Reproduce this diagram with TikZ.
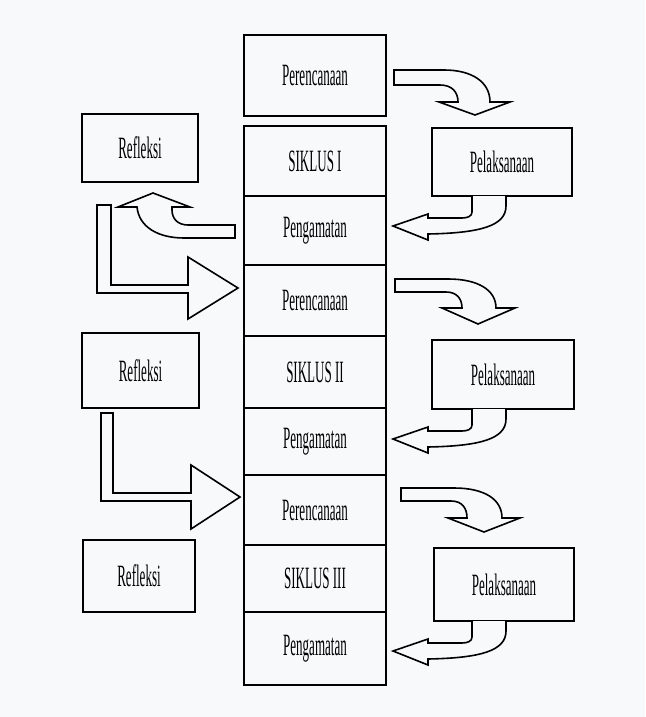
\documentclass[tikz,border=0pt]{standalone}
\usepackage{fontspec}
\setmainfont{Liberation Serif}
\usepackage{graphicx}
\definecolor{paper}{RGB}{247,249,251}
\tikzset{
  box/.style={draw=black, line width=1.6pt, inner sep=0pt, font=\fontsize{31}{33}\selectfont},
  barrow/.style={draw=black, line width=1.6pt, fill=paper, line join=miter},
}
\newcommand\sq[1]{\scalebox{0.42}[1]{#1}}
\newcommand\backarrow[1]{%
  \begin{scope}[shift={(0,#1)}]
    \draw[barrow] (472,0) -- (472,16) .. controls (472,20) and (468,22) .. (462,22) -- (428,22) -- (428,18) -- (393,30) -- (428,44) -- (428,38) .. controls (480,37) and (506,30) .. (506,10) -- (506,0);
  \end{scope}}
\begin{document}
\begin{tikzpicture}[x=1pt,y=-1pt]
\fill[paper] (0,0) rectangle (645,717);
\useasboundingbox (0,0) rectangle (645,717);

% central column
\node[box, minimum width=142pt, minimum height=81pt] (p1) at (315,75.5) {\sq{Perencanaan}};
\node[box, minimum width=142pt, minimum height=70pt] (s1) at (315,161) {\sq{SIKLUS I}};
\node[box, minimum width=142pt, minimum height=69pt] (g1) at (315,230.5) {\sq{Pengamatan}};
\node[box, minimum width=142pt, minimum height=71pt] (p2) at (315,300.5) {\sq{Perencanaan}};
\node[box, minimum width=142pt, minimum height=72pt] (s2) at (315,372) {\sq{SIKLUS II}};
\node[box, minimum width=142pt, minimum height=67pt] (g2) at (315,441.5) {\sq{Pengamatan}};
\node[box, minimum width=142pt, minimum height=70pt] (p3) at (315,510) {\sq{Perencanaan}};
\node[box, minimum width=142pt, minimum height=67pt] (s3) at (315,578.5) {\sq{SIKLUS III}};
\node[box, minimum width=142pt, minimum height=73pt] (g3) at (315,648.5) {\sq{Pengamatan}};

% left column
\node[box, minimum width=116pt, minimum height=68pt] (r1) at (140,148) {\sq{Refleksi}};
\node[box, minimum width=117pt, minimum height=75pt] (r2) at (140.5,370.5) {\sq{Refleksi}};
\node[box, minimum width=112pt, minimum height=72pt] (r3) at (139,576) {\sq{Refleksi}};

% right column
\node[box, minimum width=140pt, minimum height=68pt] (l1) at (502,162) {\sq{Pelaksanaan}};
\node[box, minimum width=142pt, minimum height=69pt] (l2) at (503,374.5) {\sq{Pelaksanaan}};
\node[box, minimum width=140pt, minimum height=73pt] (l3) at (504,584.5) {\sq{Pelaksanaan}};

% Perencanaan -> Pelaksanaan
\draw[barrow] (394,70) -- (444,70) .. controls (472,70) and (490,82) .. (490,102) -- (510,102) -- (475,115) -- (439,102) -- (458,102) .. controls (458,92) and (452,85) .. (440,85) -- (394,85) -- cycle;
\draw[barrow] (395,279) -- (448,279) .. controls (478,279) and (496,290) .. (496,308) -- (515,308) -- (478,324) -- (442,308) -- (462,308) .. controls (462,299) and (457,292) .. (446,292) -- (395,292) -- cycle;
\draw[barrow] (401,488) -- (454,488) .. controls (484,488) and (502,499) .. (502,518) -- (520,518) -- (484,532) -- (448,518) -- (467,518) .. controls (467,508) and (462,501) .. (451,501) -- (401,501) -- cycle;

% Pelaksanaan -> Pengamatan
\backarrow{196}
\backarrow{409}
\backarrow{621}

% Pengamatan -> Refleksi
\draw[barrow] (235,225) -- (188,225) .. controls (178,225) and (172,219) .. (172,210) -- (172,207) -- (190,207) -- (153,193) -- (118,207) -- (137,207) .. controls (139,227) and (158,238) .. (184,238) -- (235,238) -- cycle;

% Refleksi -> Perencanaan (L arrows)
\draw[barrow] (97,205) -- (111,205) -- (111,285) -- (188,285) -- (188,257) -- (238,288) -- (188,319) -- (188,293) -- (97,293) -- cycle;
\draw[barrow] (101,413) -- (113,413) -- (113,493) -- (191,493) -- (191,465) -- (240,497) -- (191,529) -- (191,501) -- (101,501) -- cycle;
\end{tikzpicture}
\end{document}
